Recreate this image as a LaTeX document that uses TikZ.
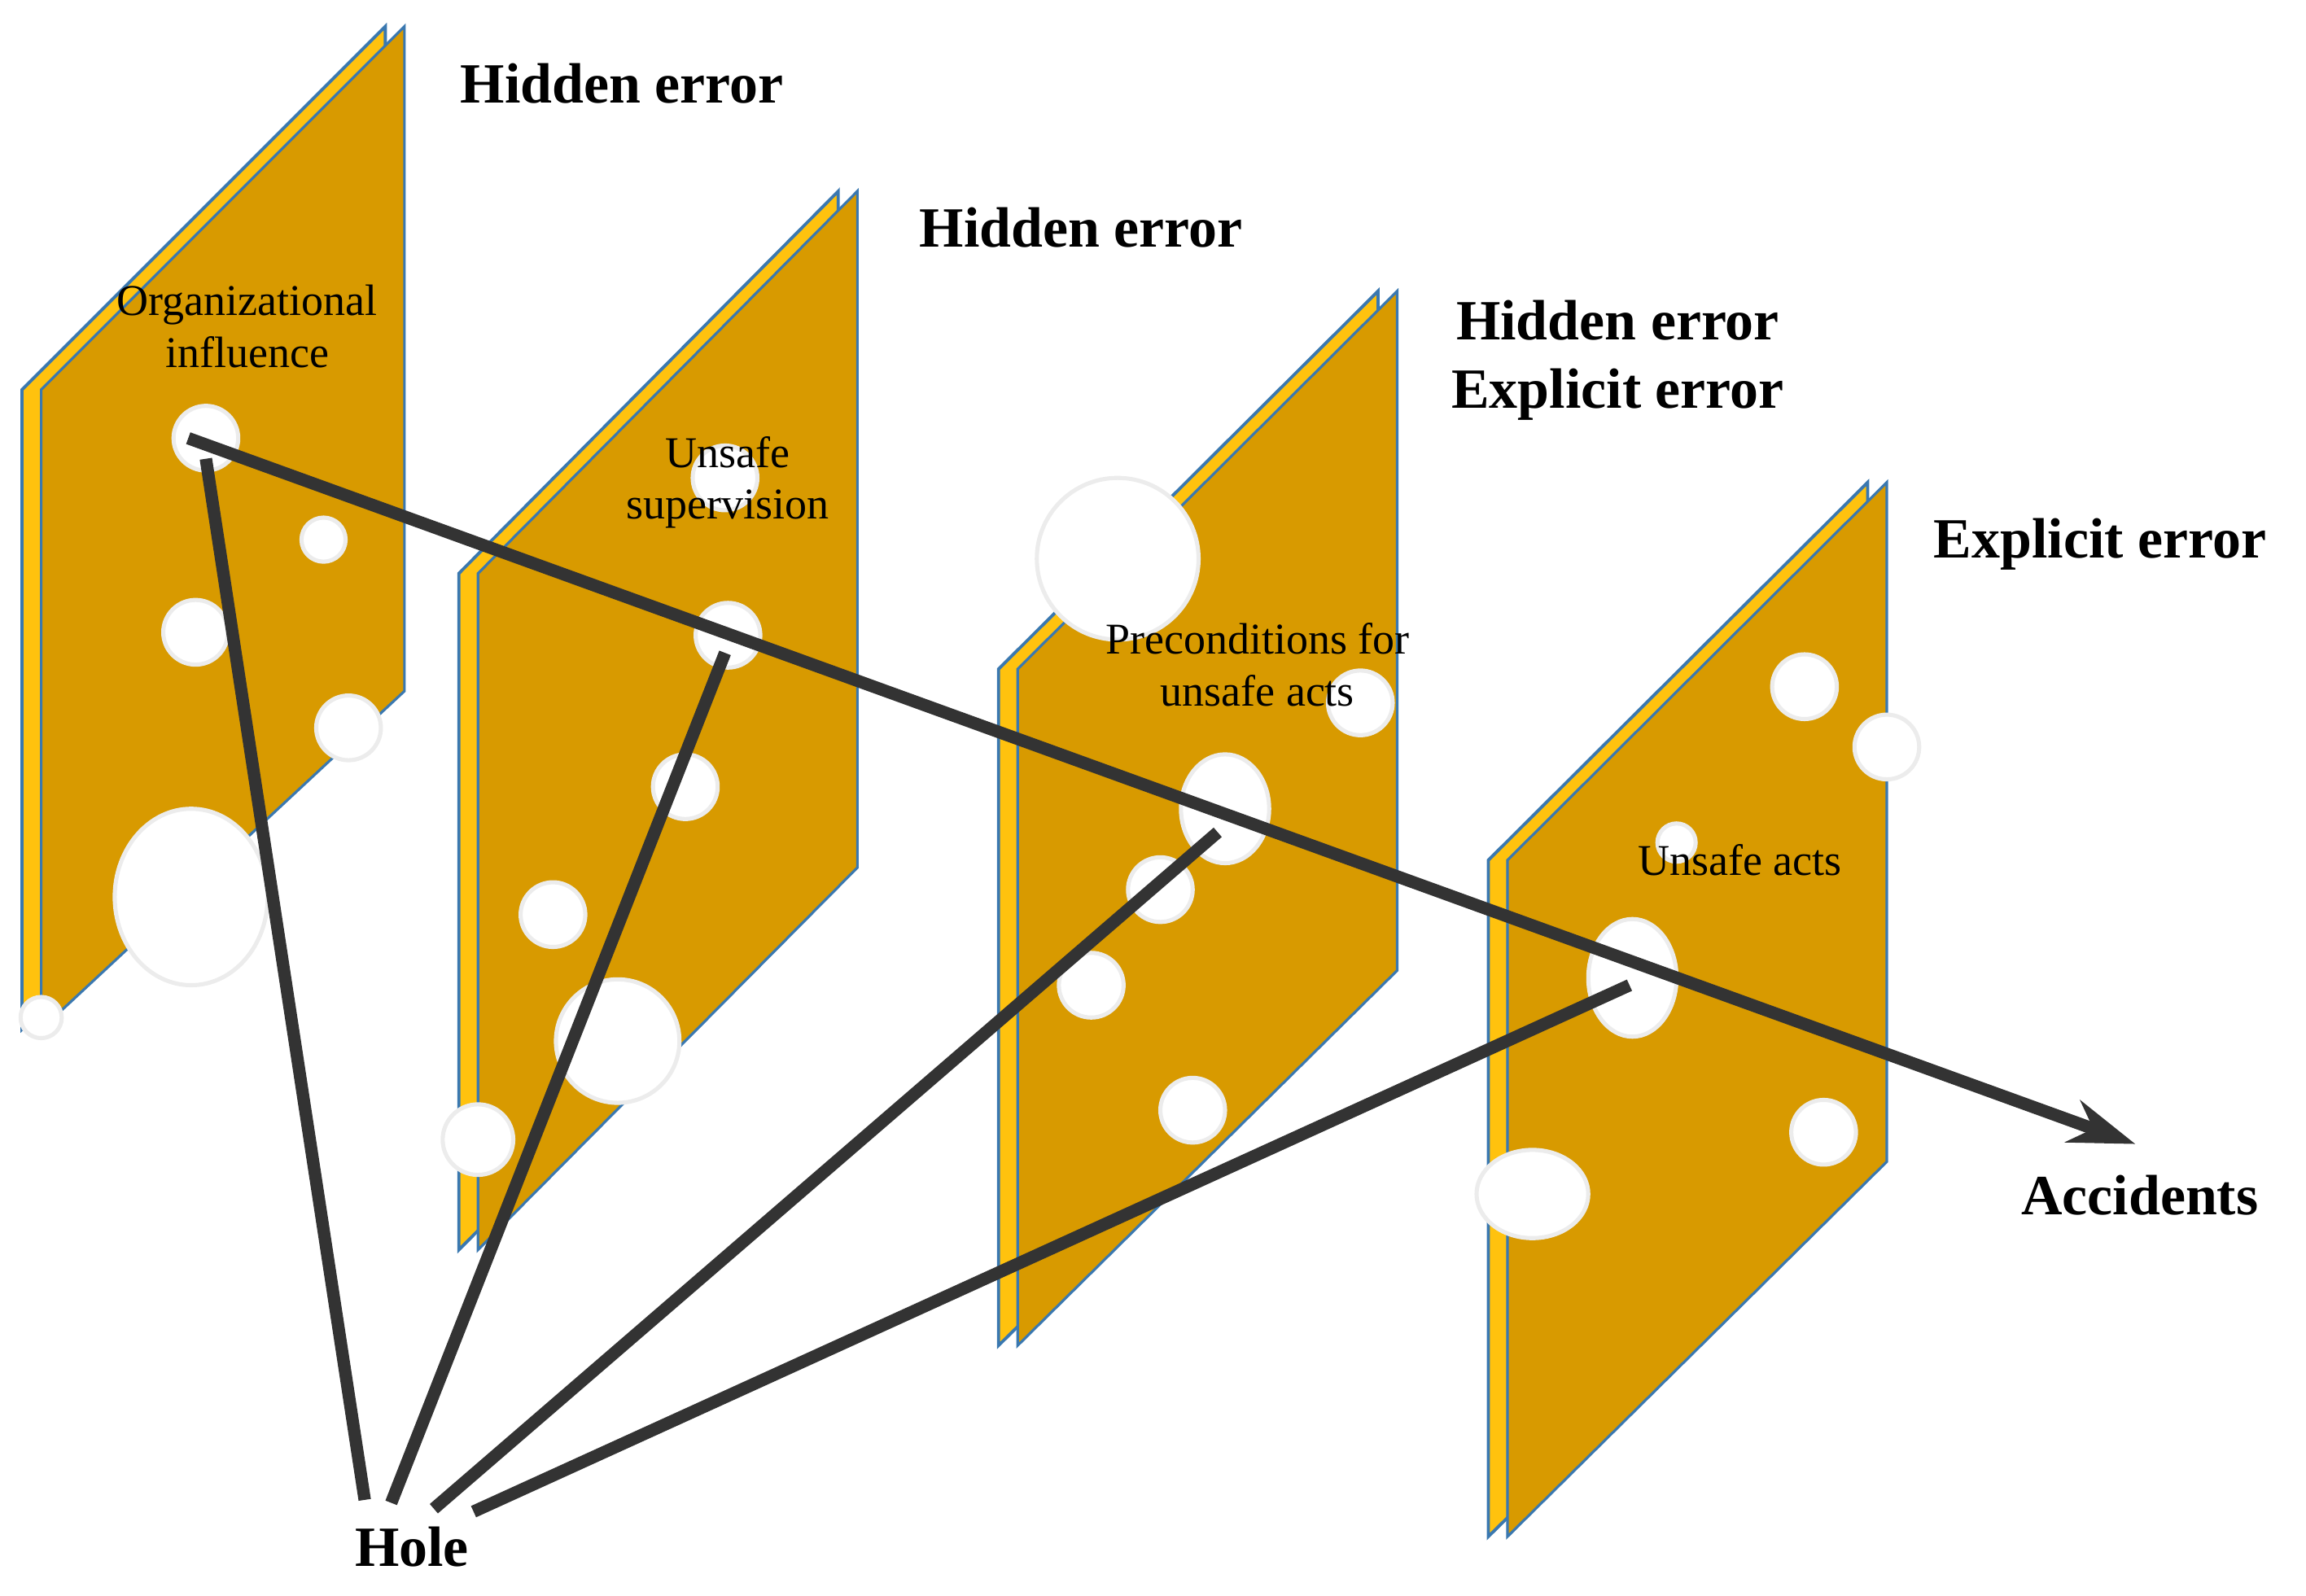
\documentclass[tikz,border=0pt]{standalone}
\usepackage{fontspec}
\setmainfont{Liberation Serif}
\usetikzlibrary{arrows.meta}
\definecolor{face}{HTML}{D89A00}
\definecolor{edge}{HTML}{FFC20E}
\definecolor{edgeline}{HTML}{3A78B0}
\definecolor{ln}{HTML}{333333}
\begin{document}
\begin{tikzpicture}[x=0.01cm,y=-0.01cm,
  big/.style={font=\bfseries\fontsize{11}{13}\selectfont},
  small/.style={font=\fontsize{8.5}{10}\selectfont,align=center},
  hole/.style={fill=white,draw=white!85!gray,line width=0.8pt},
  conn/.style={draw=ln,line width=2.4pt}]
\useasboundingbox (0,0) rectangle (1568,1085);
% slice macro: #1 left x, #2 TL y, #3 TR x, #4 TR y, #5 RB y, #6 BL y
\newcommand{\myslice}[6]{%
  \fill[edge,draw=edgeline,line width=0.6pt] ([xshift=-0.13cm]#1,#2) -- ([xshift=-0.13cm]#3,#4) -- ([xshift=-0.13cm]#3,#5) -- ([xshift=-0.13cm]#1,#6) -- cycle;
  \fill[face,draw=edgeline,line width=0.5pt] (#1,#2) -- (#3,#4) -- (#3,#5) -- (#1,#6) -- cycle;}
% Slice 1
\myslice{28}{265}{275}{18}{470}{700}
\foreach \x/\y/\r in {140/298/22,220/367/15,133/430/22,237/495/22,28/692/14}
  \fill[hole] (\x,\y) circle[radius=\r];
\fill[hole] (130,610) circle[x radius=52,y radius=60];
% Slice 2
\myslice{325}{390}{583}{130}{590}{850}
\foreach \x/\y/\r in {493/325/22,495/432/22,466/535/22,376/622/22,325/775/24}
  \fill[hole] (\x,\y) circle[radius=\r];
\fill[hole] (420,708) circle[x radius=42,y radius=42];
% Slice 3
\myslice{692}{455}{950}{198}{660}{915}
\fill[hole] (760,380) circle[radius=55];
\foreach \x/\y/\r in {925/478/22,789/605/22,742/670/22,811/755/22}
  \fill[hole] (\x,\y) circle[radius=\r];
\fill[hole] (833,550) circle[x radius=30,y radius=37];
% Slice 4
\myslice{1025}{585}{1283}{328}{790}{1045}
\foreach \x/\y/\r in {1227/467/22,1283/508/22,1140/573/13,1240/770/22}
  \fill[hole] (\x,\y) circle[radius=\r];
\fill[hole] (1110,665) circle[x radius=30,y radius=40];
\fill[hole] (1042,812) circle[x radius=38,y radius=30];
% texts
\node[big] (h1) at (423,57) {Hidden error};
\node[big] (h2) at (735,155) {Hidden error};
\node[big] (h3) at (1100,218) {Hidden error};
\node[big] (e3) at (1100,268) {Explicit error};
\node[big] (e4) at (1428,370) {Explicit error};
\node[big] (acc) at (1455,813) {Accidents};
\node[big] (hole) at (280,1052) {Hole};
\node[small] (t1) at (168,222) {Organizational\\influence};
\node[small] (t2) at (495,328) {Unsafe\\supervision};
\node[small] (t3) at (855,452) {Preconditions for\\unsafe acts};
\node[small] (t4) at (1183,585) {Unsafe acts};
% connectors
\coordinate (s) at (128,298);
\coordinate (e) at (1452,778);
\coordinate (p1) at (140,312);
\coordinate (p2) at (493,444);
\coordinate (p3) at (828,566);
\coordinate (p4) at (1108,670);
\coordinate (q1) at (248,1020);
\coordinate (q2) at (266,1022);
\coordinate (q3) at (295,1026);
\coordinate (q4) at (322,1028);
\draw[conn,-{Stealth[length=0.45cm,width=0.3cm]}] (s) -- (e);
\draw[conn] (q1) -- (p1);
\draw[conn] (q2) -- (p2);
\draw[conn] (q3) -- (p3);
\draw[conn] (q4) -- (p4);
\end{tikzpicture}
\end{document}
